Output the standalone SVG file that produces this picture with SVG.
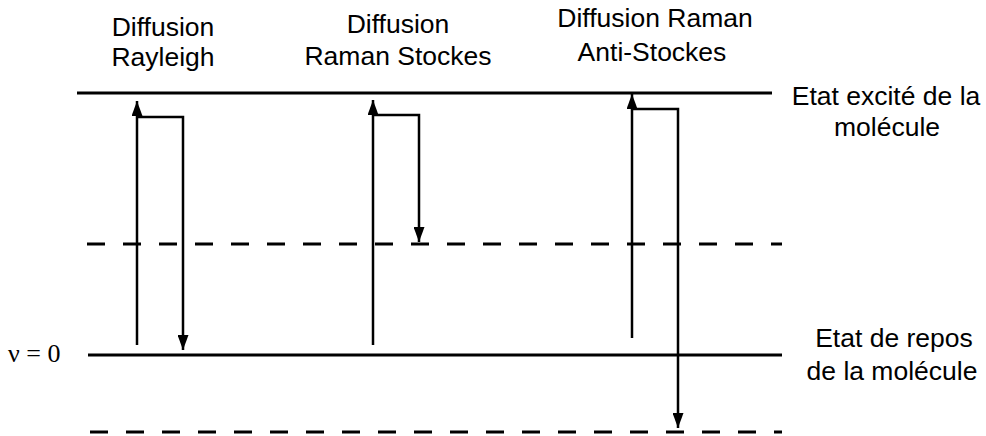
<svg xmlns="http://www.w3.org/2000/svg" width="986" height="436" viewBox="0 0 986 436">
<defs>
<marker id="ah" markerWidth="15" markerHeight="11" refX="15" refY="5.5" orient="auto" markerUnits="userSpaceOnUse" viewBox="0 0 15 11">
<path d="M0,0 L15,5.5 L0,11 Z" fill="#000"/>
</marker>
<style>
.lvl{stroke:#000;stroke-width:3;fill:none}
.dash{stroke:#000;stroke-width:3;stroke-dasharray:18 18;fill:none}
.tr{stroke:#000;stroke-width:2.5;fill:none}
.t{font-family:"Liberation Sans",Arial,sans-serif;font-size:26.5px;fill:#000;text-anchor:middle}
</style>
</defs>
<rect width="986" height="436" fill="#fff"/>
<g id="levels">
<line class="lvl" x1="77" y1="93" x2="772" y2="93"/>
<line class="dash" x1="87" y1="244" x2="782" y2="244"/>
<line class="lvl" x1="88" y1="355" x2="782" y2="355"/>
<line class="dash" x1="90" y1="432" x2="782" y2="432"/>
</g>
<g id="connectors">
<path class="tr" d="M137,345 V101" marker-end="url(#ah)"/>
<path class="tr" d="M136,117 H183 V350" marker-end="url(#ah)"/>
<path class="tr" d="M373,345 V100" marker-end="url(#ah)"/>
<path class="tr" d="M372,115 H419 V242" marker-end="url(#ah)"/>
<path class="tr" d="M632,338 V94" marker-end="url(#ah)"/>
<path class="tr" d="M631,109 H678 V428" marker-end="url(#ah)"/>
</g>
<g id="rayleigh">
<text class="t" x="163" y="36">Diffusion</text>
<text class="t" x="163" y="66">Rayleigh</text>
</g>
<g id="stokes">
<text class="t" x="398" y="33">Diffusion</text>
<text class="t" x="398" y="65">Raman Stockes</text>
</g>
<g id="antistokes">
<text class="t" x="655" y="27">Diffusion Raman</text>
<text class="t" x="652" y="61">Anti-Stockes</text>
</g>
<g id="excite">
<text class="t" x="886" y="105">Etat excité de la</text>
<text class="t" x="887" y="136">molécule</text>
</g>
<g id="repos">
<text class="t" x="894" y="347">Etat de repos</text>
<text class="t" x="892" y="380">de la molécule</text>
</g>
<g id="nu">
<text x="8" y="362" style="font-family:'Liberation Serif','Times New Roman',serif;font-size:26px;fill:#000">ν = 0</text>
</g>
</svg>
